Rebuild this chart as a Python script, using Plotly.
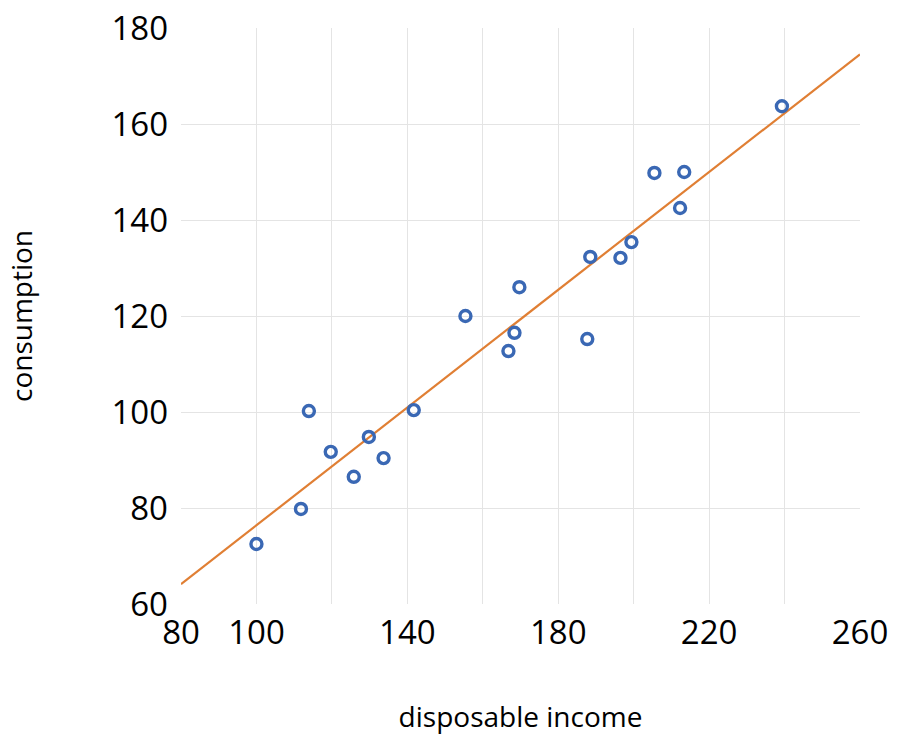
import numpy as np
import plotly.graph_objects as go

# data
income = [100.0, 111.8, 113.9, 119.7, 125.8, 129.8, 133.7, 141.7, 155.4, 166.8,
          168.4, 169.7, 187.7, 188.5, 196.5, 199.4, 205.5, 212.3, 213.4, 239.3]
consumption = [72.5, 79.8, 100.2, 91.7, 86.5, 94.8, 90.4, 100.4, 120.0, 112.7,
               116.5, 126.0, 115.2, 132.3, 132.1, 135.4, 149.8, 142.5, 150.0, 163.7]

x_tick_vals = [80, 100, 140, 180, 220, 260]
x_grid_vals = [100, 120, 140, 160, 180, 200, 220, 240]
y_tick_vals = [60, 80, 100, 120, 140, 160, 180]
y_grid_vals = [80, 100, 120, 140, 160]
x_range = [80, 260]
y_range = [60, 180]

slope, intercept = np.polyfit(income, consumption, 1)
trend_x = np.array(x_range, dtype=float)
trend_y = slope * trend_x + intercept

fig = go.Figure()
fig.add_trace(go.Scatter(x=trend_x, y=trend_y, mode="lines",
                         line=dict(color="#E07F34", width=2.2),
                         showlegend=False, hoverinfo="skip"))
fig.add_trace(go.Scatter(x=income, y=consumption, mode="markers",
                         marker=dict(symbol="circle-open", size=11,
                                     color="#3A68B4", line=dict(width=3.4, color="#3A68B4")),
                         showlegend=False))

font_family = "Open Sans, DejaVu Sans, sans-serif"
grid_color = "#E4E4E4"

fig.update_layout(
    width=897, height=735,
    margin=dict(l=181, r=37, t=28, b=131),
    paper_bgcolor="white", plot_bgcolor="white",
    font=dict(family=font_family, color="black"),
    xaxis=dict(
        range=x_range, tickmode="array", tickvals=x_tick_vals,
        showgrid=False, zeroline=False, showline=False, ticks="",
        tickfont=dict(size=33), ticklabelstandoff=6, ticklabeloverflow="allow",
        minor=dict(tickmode="array", tickvals=x_grid_vals, showgrid=True,
                   gridcolor=grid_color, gridwidth=1.4, ticks=""),
        title=dict(text="disposable income", font=dict(size=28), standoff=55),
        automargin=False,
    ),
    yaxis=dict(
        range=y_range, tickmode="array", tickvals=y_tick_vals,
        showgrid=False, zeroline=False, showline=False, ticks="",
        tickfont=dict(size=33), ticklabelstandoff=12, ticklabeloverflow="allow",
        minor=dict(tickmode="array", tickvals=y_grid_vals, showgrid=True,
                   gridcolor=grid_color, gridwidth=1.4, ticks=""),
        title=dict(text="consumption", font=dict(size=28), standoff=70),
        automargin=False,
    ),
)

fig.write_html("out.html",
               config={"displayModeBar": False},
               post_script="document.body.style.margin='0';document.body.style.overflow='hidden';")
